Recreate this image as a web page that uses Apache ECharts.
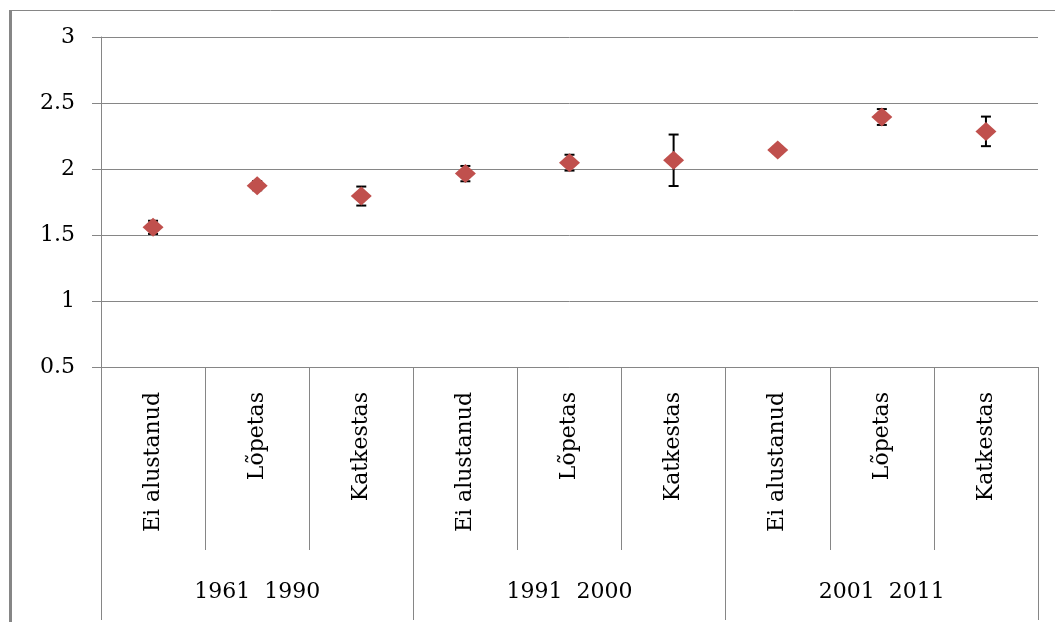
<!DOCTYPE html>
<html>
<head>
<meta charset="utf-8">
<script src="https://cdn.jsdelivr.net/npm/echarts@6/dist/echarts.min.js"></script>
<style>
html,body{margin:0;padding:0;background:#fff;}
#chart{width:1055px;height:622px;}
</style>
</head>
<body>
<div id="chart"></div>
<script>
const categories = ['Ei alustanud','Lõpetas','Katkestas','Ei alustanud','Lõpetas','Katkestas','Ei alustanud','Lõpetas','Katkestas'];
const groups = ['1961  1990','1991  2000','2001  2011'];
const means = [1.558, 1.874, 1.795, 1.965, 2.048, 2.066, 2.144, 2.394, 2.285];
const errors = [0.05, 0.035, 0.072, 0.058, 0.06, 0.195, 0.025, 0.06, 0.112];
const yTicks = {min: 0.5, max: 3, interval: 0.5};

const FONT = 'DejaVu Serif';
const GRAY = '#868686';

const errData = means.map((m, i) => [i, m - errors[i], m + errors[i]]);

const chart = echarts.init(document.getElementById('chart'), null, {renderer: 'canvas'});
chart.setOption({
  animation: false,
  backgroundColor: '#fff',
  grid: {left: 101, top: 37, right: 17, bottom: 255},
  xAxis: [
    {
      type: 'category',
      data: categories,
      position: 'bottom',
      axisLine: {show: true, lineStyle: {color: GRAY, width: 1}},
      axisTick: {show: true, interval: 0, length: 183, lineStyle: {color: GRAY, width: 1}},
      axisLabel: {interval: 0, rotate: 90, margin: 25, color: '#000', fontFamily: FONT, fontSize: 22},
      splitLine: {show: false}
    },
    {
      type: 'category',
      data: groups,
      position: 'bottom',
      axisLine: {show: false},
      axisTick: {show: true, interval: 0, length: 253, lineStyle: {color: GRAY, width: 1}},
      axisLabel: {interval: 0, margin: 214, color: '#000', fontFamily: FONT, fontSize: 22},
      splitLine: {show: false}
    }
  ],
  yAxis: {
    type: 'value',
    min: yTicks.min, max: yTicks.max, interval: yTicks.interval,
    axisLine: {show: true, lineStyle: {color: GRAY, width: 1}},
    axisTick: {show: true, length: 9, lineStyle: {color: GRAY, width: 1}},
    axisLabel: {margin: 26, color: '#000', fontFamily: FONT, fontSize: 22},
    splitLine: {show: true, lineStyle: {color: GRAY, width: 1}}
  },
  graphic: [
    {type: 'line', shape: {x1: 10.5, y1: 11, x2: 10.5, y2: 622}, style: {stroke: GRAY, lineWidth: 3}},
    {type: 'line', shape: {x1: 9, y1: 10.5, x2: 1055, y2: 10.5}, style: {stroke: GRAY, lineWidth: 1}}
  ],
  series: [
    {
      type: 'custom',
      xAxisIndex: 0,
      z: 2,
      data: errData,
      renderItem: function (params, api) {
        const x = api.value(0);
        const lo = api.coord([x, api.value(1)]);
        const hi = api.coord([x, api.value(2)]);
        const hw = 5;
        const st = {stroke: '#000', lineWidth: 2};
        return {
          type: 'group',
          children: [
            {type: 'line', shape: {x1: lo[0], y1: lo[1], x2: hi[0], y2: hi[1]}, style: st},
            {type: 'line', shape: {x1: lo[0] - hw, y1: lo[1], x2: lo[0] + hw, y2: lo[1]}, style: st},
            {type: 'line', shape: {x1: hi[0] - hw, y1: hi[1], x2: hi[0] + hw, y2: hi[1]}, style: st}
          ]
        };
      }
    },
    {
      type: 'scatter',
      xAxisIndex: 0,
      z: 5,
      data: means,
      symbol: 'diamond',
      symbolSize: [21, 19],
      itemStyle: {color: '#C0504D', opacity: 1},
      emphasis: {disabled: true}
    }
  ]
});
</script>
</body>
</html>
